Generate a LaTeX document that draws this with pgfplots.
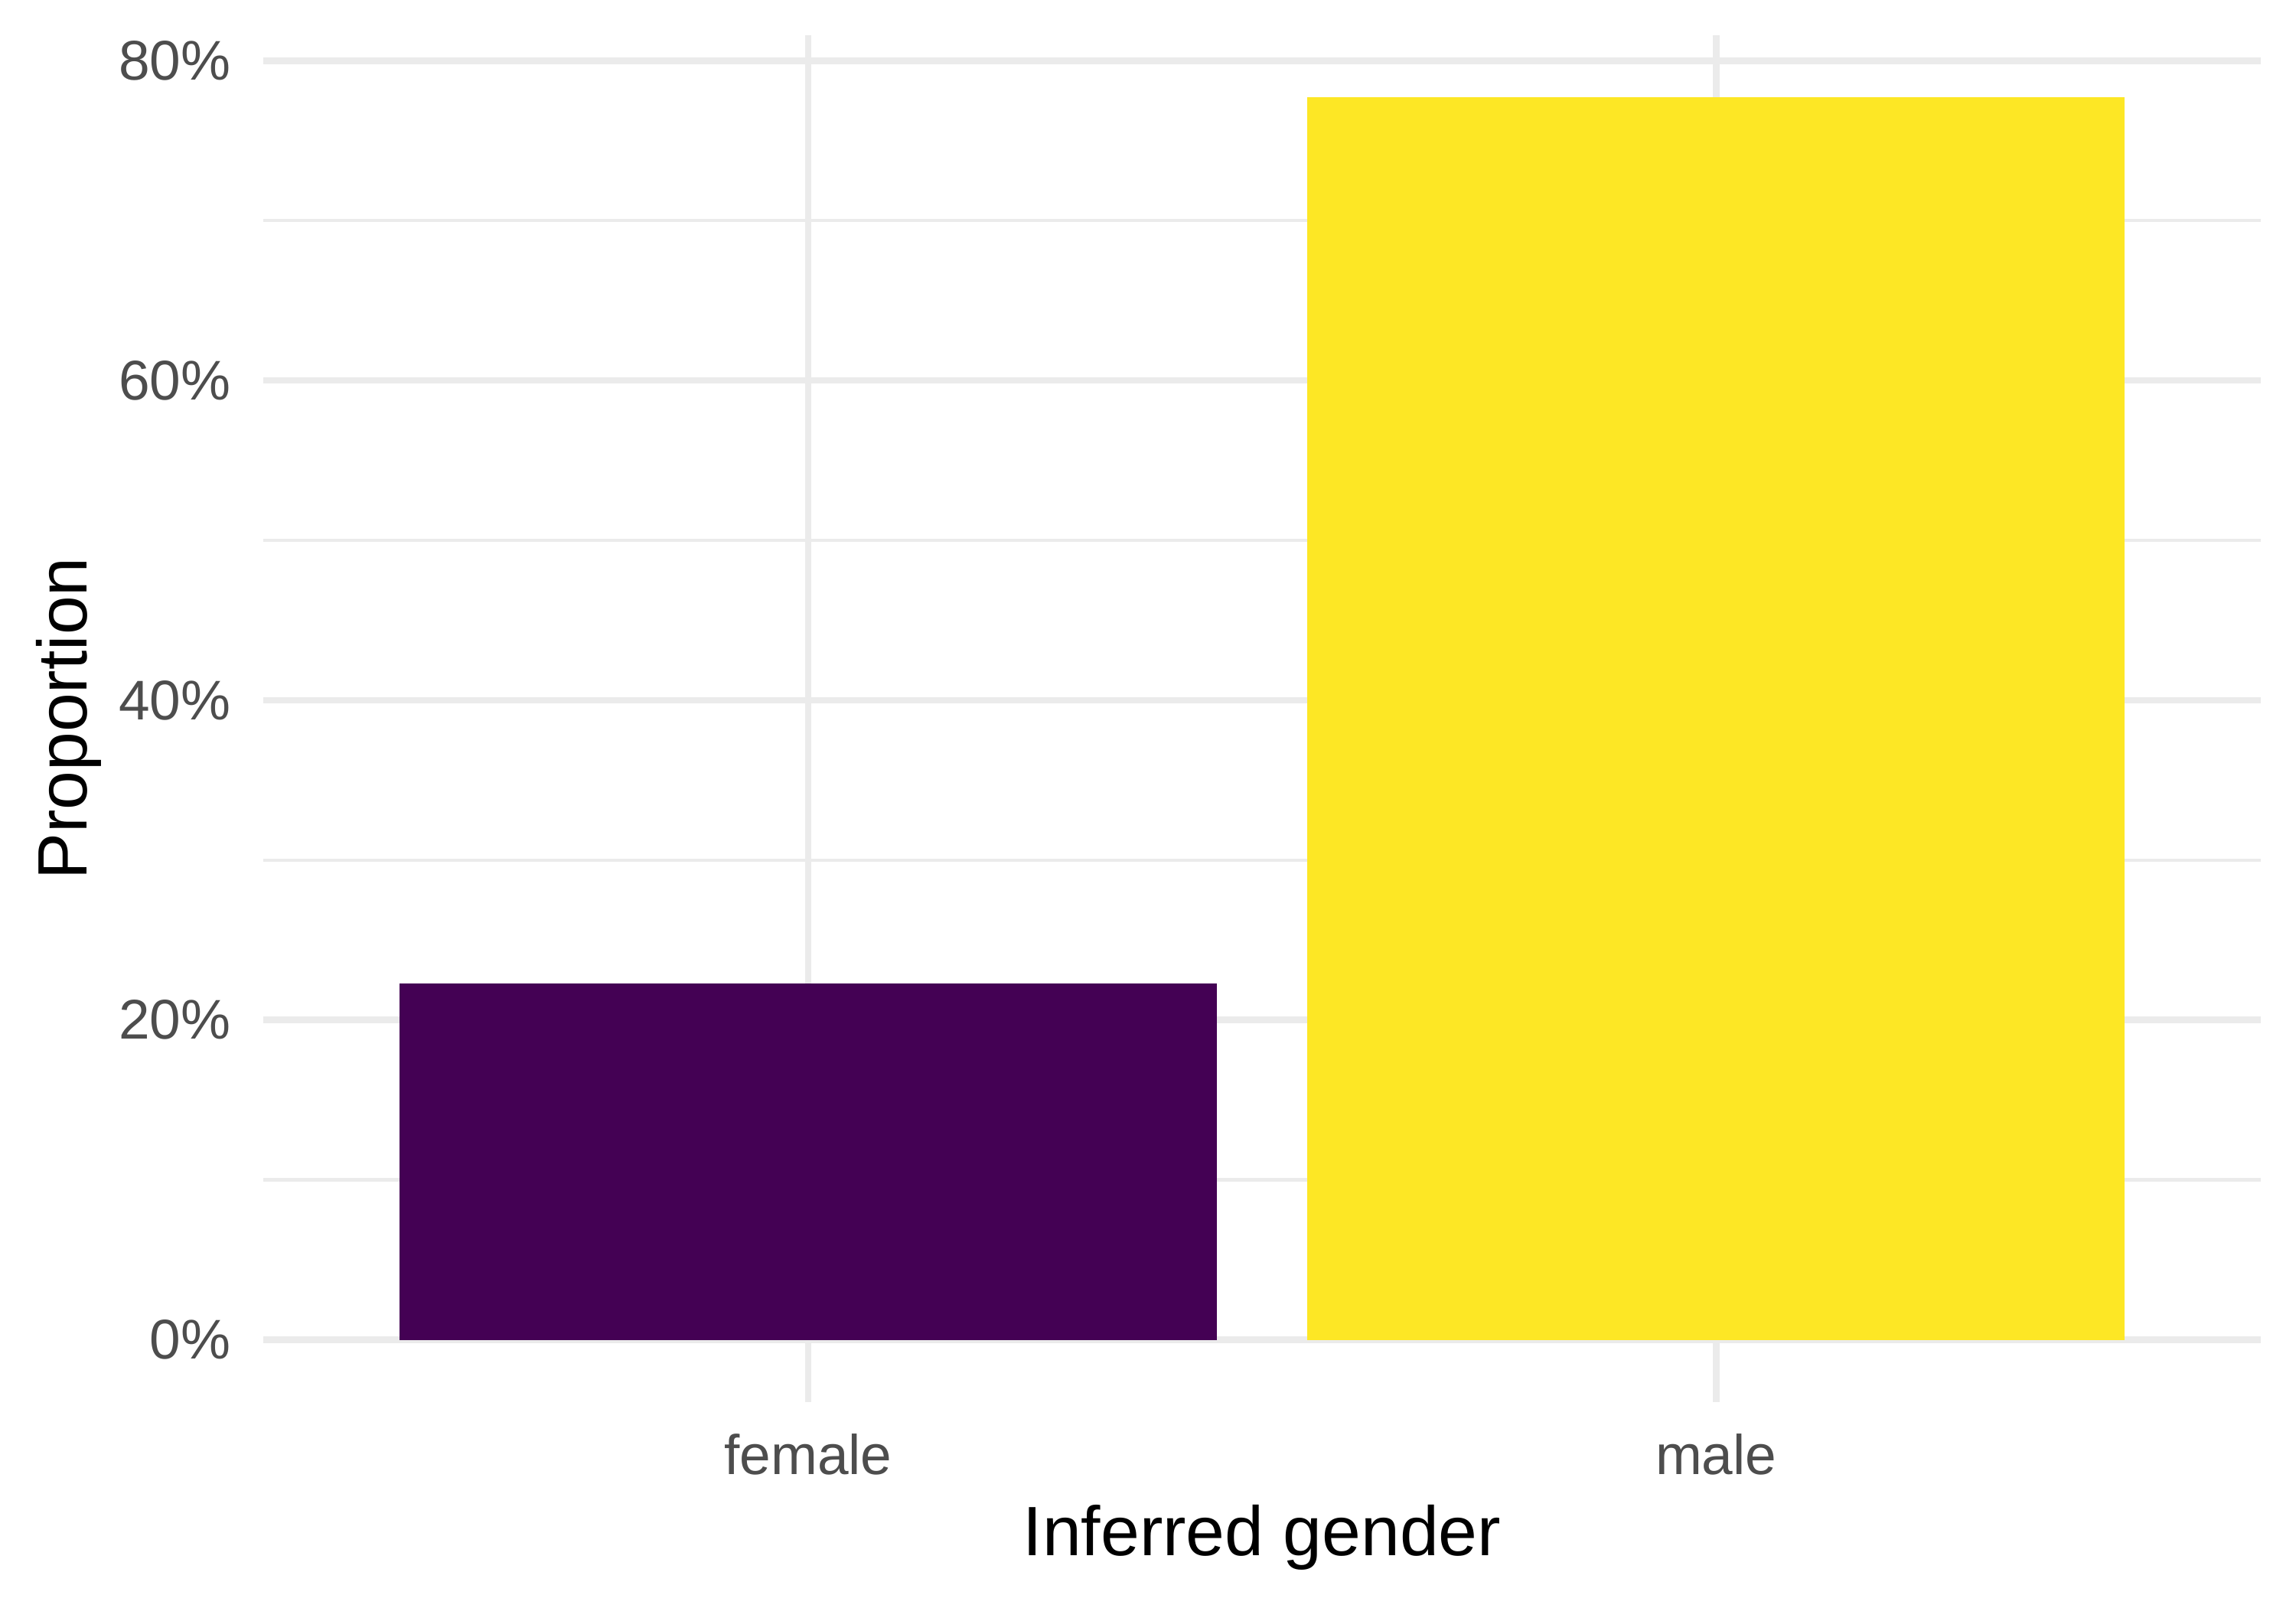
\documentclass[border=0pt]{standalone}
\usepackage{pgfplots}
\pgfplotsset{compat=1.18}
\usepackage{fontspec}
\setmainfont{Liberation Sans}

\definecolor{femalecol}{HTML}{440154}
\definecolor{malecol}{HTML}{FDE725}
\definecolor{gridcol}{HTML}{EBEBEB}
\definecolor{tickcol}{HTML}{4D4D4D}

\begin{document}
\begin{tikzpicture}
\useasboundingbox (-82.9pt,-64.6pt) rectangle (639.8pt,441.3pt);
\begin{axis}[
    scale only axis,
    width=628.7pt,
    height=430.2pt,
    xmin=0.4, xmax=2.6,
    ymin=-3.885, ymax=81.585,
    xtick={1,2},
    xticklabels={female,male},
    ytick={0,20,40,60,80},
    yticklabels={0\%,20\%,40\%,60\%,80\%},
    minor ytick={10,30,50,70},
    xmajorgrids, ymajorgrids, yminorgrids,
    major grid style={draw=gridcol, line width=2.1pt},
    minor grid style={draw=gridcol, line width=1.1pt},
    axis line style={draw=none},
    tick style={draw=none},
    major tick length=0pt,
    minor tick length=0pt,
    yticklabel style={anchor=east, inner sep=0pt, xshift=-10.1pt,
        text=tickcol, font=\fontsize{17.6}{19}\selectfont},
    xticklabel style={anchor=base, inner sep=0pt, yshift=-22.9pt,
        text=tickcol, font=\fontsize{17.6}{19}\selectfont},
    xlabel={Inferred gender},
    ylabel={Proportion},
    xlabel style={at={(axis description cs:0.5,0)}, anchor=base,
        inner sep=0pt, yshift=-48.4pt, font=\fontsize{22}{24}\selectfont},
    ylabel style={at={(axis description cs:0,0.5)}, anchor=base,
        inner sep=0pt, yshift=55.6pt, font=\fontsize{22}{24}\selectfont},
    ybar,
    bar width=0.9,
]
% share of each inferred gender
\addplot[ybar, bar shift=0pt, fill=femalecol, draw=none] coordinates {(1,22.3)};
\addplot[ybar, bar shift=0pt, fill=malecol, draw=none] coordinates {(2,77.7)};
\end{axis}
\end{tikzpicture}
\end{document}
